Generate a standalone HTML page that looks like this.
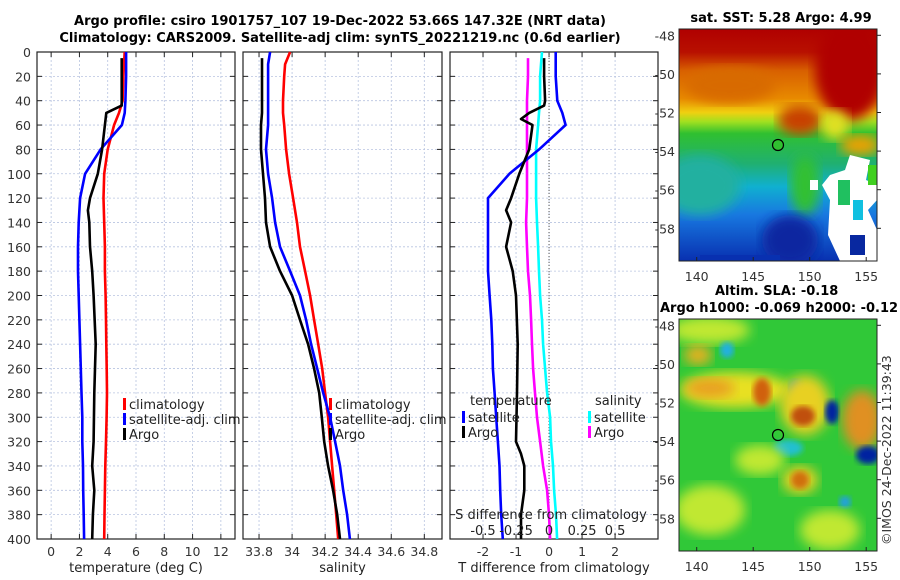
<!DOCTYPE html>
<html><head><meta charset="utf-8"><style>
html,body{margin:0;padding:0;background:#fff;}
svg{display:block;font-family:"DejaVu Sans","Liberation Sans",sans-serif;}
.tk{font-size:12.5px;fill:#333;}
.ttl{font-size:13px;font-weight:bold;fill:#000;}
.lg{font-size:13px;fill:#222;}
</style></head><body>
<svg id="chart" width="900" height="580" viewBox="0 0 900 580">
<defs>
<filter id="blur6"><feGaussianBlur stdDeviation="6"/></filter>
<filter id="blur3"><feGaussianBlur stdDeviation="3"/></filter>
<clipPath id="clipTop"><rect x="679" y="29" width="198" height="232"/></clipPath>
<clipPath id="clipBot"><rect x="679" y="319" width="198" height="232"/></clipPath>
<linearGradient id="sstGrad" x1="0" y1="0" x2="0" y2="1">
<stop offset="0" stop-color="#b00000"/><stop offset="0.1" stop-color="#b81000"/>
<stop offset="0.18" stop-color="#d86000"/><stop offset="0.3" stop-color="#e88a00"/>
<stop offset="0.36" stop-color="#f0d010"/><stop offset="0.4" stop-color="#a0e020"/>
<stop offset="0.45" stop-color="#30c030"/><stop offset="0.58" stop-color="#20b070"/>
<stop offset="0.68" stop-color="#10b0d0"/>
<stop offset="0.8" stop-color="#1878e0"/><stop offset="1" stop-color="#0830b0"/>
</linearGradient>
</defs>
<g id="titles">
<text class="ttl" x="340" y="25" text-anchor="middle">Argo profile: csiro 1901757_107 19-Dec-2022 53.66S 147.32E (NRT data)</text>
<text class="ttl" x="340" y="42" text-anchor="middle">Climatology: CARS2009. Satellite-adj clim: synTS_20221219.nc (0.6d earlier)</text>
</g>
<g id="panels"></g>
<g id="maps">
<g clip-path="url(#clipTop)">
<rect x="679" y="29" width="198" height="232" fill="url(#sstGrad)"/>
<ellipse cx="850" cy="70" rx="35" ry="50" fill="#b00000" filter="url(#blur6)"/>
<ellipse cx="730" cy="85" rx="45" ry="18" fill="#d86a00" filter="url(#blur6)"/>
<ellipse cx="800" cy="120" rx="22" ry="15" fill="#c84000" filter="url(#blur6)"/>
<ellipse cx="835" cy="125" rx="14" ry="15" fill="#e0e020" filter="url(#blur6)"/>
<ellipse cx="860" cy="145" rx="20" ry="10" fill="#f0a000" filter="url(#blur6)"/>
<ellipse cx="700" cy="185" rx="40" ry="30" fill="#20b0a0" filter="url(#blur6)"/>
<ellipse cx="805" cy="185" rx="15" ry="30" fill="#30c030" filter="url(#blur6)"/>
<ellipse cx="790" cy="240" rx="28" ry="25" fill="#0828a0" filter="url(#blur6)"/>
<polygon points="830,175 845,170 850,155 870,160 866,180 877,185 877,200 868,210 877,230 877,261 840,261 828,235 830,200 822,185" fill="#ffffff"/>
<rect x="838" y="180" width="12" height="25" fill="#20c060"/>
<rect x="853" y="200" width="10" height="20" fill="#10c0e0"/>
<rect x="868" y="165" width="9" height="20" fill="#40d020"/>
<rect x="850" y="235" width="15" height="20" fill="#0828a0"/>
<rect x="810" y="180" width="8" height="10" fill="#ffffff"/>
<rect x="700" y="255" width="80" height="6" fill="#0830b0"/>
</g>
<rect x="679" y="29" width="198" height="232" fill="none" stroke="#222" stroke-width="1"/>
<circle cx="778" cy="145" r="5.5" fill="#30c030" stroke="#000" stroke-width="1.2"/>
<text class="ttl" x="781" y="22" text-anchor="middle">sat. SST: 5.28 Argo: 4.99</text>
<g clip-path="url(#clipBot)">
<rect x="679" y="319" width="198" height="232" fill="#30c838"/>
<ellipse cx="710" cy="330" rx="40" ry="14" fill="#c0e830" filter="url(#blur6)"/>
<ellipse cx="735" cy="390" rx="55" ry="18" fill="#e8e020" filter="url(#blur6)"/>
<ellipse cx="710" cy="388" rx="25" ry="10" fill="#e8a020" filter="url(#blur6)"/>
<ellipse cx="698" cy="355" rx="14" ry="10" fill="#e8b020" filter="url(#blur6)"/>
<ellipse cx="762" cy="392" rx="9" ry="14" fill="#d06010" filter="url(#blur3)"/>
<ellipse cx="727" cy="350" rx="7" ry="8" fill="#20b0e0" filter="url(#blur3)"/>
<ellipse cx="796" cy="388" rx="7" ry="8" fill="#1090e0" filter="url(#blur3)"/>
<ellipse cx="805" cy="405" rx="25" ry="30" fill="#e8d020" filter="url(#blur6)"/>
<ellipse cx="803" cy="416" rx="12" ry="10" fill="#c05010" filter="url(#blur3)"/>
<ellipse cx="832" cy="412" rx="7" ry="12" fill="#0020a0" filter="url(#blur3)"/>
<ellipse cx="862" cy="420" rx="20" ry="30" fill="#e09020" filter="url(#blur6)"/>
<ellipse cx="868" cy="455" rx="12" ry="9" fill="#0020a0" filter="url(#blur3)"/>
<ellipse cx="788" cy="448" rx="15" ry="8" fill="#20c0d0" filter="url(#blur3)"/>
<ellipse cx="800" cy="480" rx="18" ry="14" fill="#e8d020" filter="url(#blur6)"/>
<ellipse cx="800" cy="480" rx="9" ry="9" fill="#d07010" filter="url(#blur3)"/>
<ellipse cx="845" cy="502" rx="6" ry="6" fill="#20a0e0" filter="url(#blur3)"/>
<ellipse cx="710" cy="510" rx="35" ry="25" fill="#c0e830" filter="url(#blur6)"/>
<ellipse cx="760" cy="460" rx="25" ry="15" fill="#c0e830" filter="url(#blur6)"/>
<ellipse cx="830" cy="530" rx="30" ry="20" fill="#c0e830" filter="url(#blur6)"/>
</g>
<rect x="679" y="319" width="198" height="232" fill="none" stroke="#222" stroke-width="1"/>
<circle cx="778" cy="435" r="5.5" fill="none" stroke="#000" stroke-width="1.2"/>
<text class="ttl" x="715" y="295">Altim. SLA: -0.18</text>
<text class="ttl" x="660" y="312">Argo h1000: -0.069 h2000: -0.12</text>
<text class="tk" x="0" y="0" transform="translate(891,545) rotate(-90)">©IMOS 24-Dec-2022 11:39:43</text>
</g>
</svg>
<script>
// ---- data ----
const depths = [0,10,20,40,50,60,80,100,120,140,160,180,200,220,240,260,280,300,320,340,360,380,400];
const argoDepths = [5,20,40,44,50,55,60,80,100,120,130,140,160,180,200,240,280,320,330,340,360,380,400];
const argoSalDepths = [5,10,20,40,50,60,80,100,120,140,160,180,200,220,240,260,280,300,320,340,360,380,400];
const tempClim = [5.2,5.15,5.1,5.05,4.8,4.45,4.0,3.75,3.7,3.75,3.8,3.8,3.85,3.88,3.9,3.93,3.95,3.92,3.88,3.83,3.8,3.77,3.75];
const tempSat = [5.3,5.3,5.3,5.25,5.2,5.0,3.5,2.4,2.05,1.95,1.9,1.9,1.95,2.0,2.05,2.1,2.15,2.2,2.2,2.25,2.27,2.3,2.33];
const tempArgo = [4.99,4.99,4.99,4.99,3.9,3.85,3.8,3.6,3.3,2.75,2.6,2.7,2.75,2.9,3.0,3.15,3.05,3.0,2.95,2.9,3.05,2.95,2.9];
const salClim = [33.988,33.958,33.952,33.945,33.945,33.952,33.964,33.982,34.006,34.03,34.048,34.079,34.109,34.133,34.158,34.182,34.2,34.218,34.23,34.242,34.255,34.267,34.279];
const salSat = [33.867,33.855,33.855,33.855,33.855,33.855,33.842,33.855,33.879,33.897,33.927,33.988,34.048,34.085,34.115,34.152,34.188,34.23,34.26,34.29,34.309,34.333,34.35];
const salArgo = [33.818,33.818,33.818,33.818,33.818,33.812,33.812,33.824,33.836,33.842,33.867,33.927,34.0,34.048,34.097,34.133,34.164,34.18,34.194,34.218,34.248,34.273,34.29];
const tDiffSat = [0.2,0.2,0.2,0.25,0.4,0.5,-0.3,-1.2,-1.85,-1.85,-1.85,-1.85,-1.8,-1.75,-1.72,-1.7,-1.65,-1.6,-1.55,-1.5,-1.48,-1.45,-1.4];
const tDiffArgo = [-0.15,-0.15,-0.12,-0.15,-0.6,-0.85,-0.5,-0.6,-0.9,-1.15,-1.3,-1.15,-1.3,-1.1,-1.0,-0.95,-0.97,-1.0,-0.85,-0.75,-0.75,-0.85,-0.85];
const sDiffSat = [-0.053,-0.061,-0.068,-0.068,-0.076,-0.083,-0.098,-0.098,-0.098,-0.091,-0.083,-0.076,-0.068,-0.053,-0.045,-0.030,-0.015,0.008,0.015,0.030,0.038,0.053,0.061];
const sDiffArgo = [-0.159,-0.159,-0.159,-0.167,-0.167,-0.167,-0.167,-0.167,-0.167,-0.174,-0.167,-0.159,-0.144,-0.136,-0.129,-0.121,-0.106,-0.091,-0.068,-0.045,-0.015,0,0.008];
const depthTicks = [0,20,40,60,80,100,120,140,160,180,200,220,240,260,280,300,320,340,360,380,400];
const tempTicks = [0,2,4,6,8,10,12];
const salTicks = [33.8,34,34.2,34.4,34.6,34.8];
const tdTicks = [-2,-1,0,1,2];
const sdTicks = [-0.5,-0.25,0,0.25,0.5];
const mapLonTicks = [140,145,150,155];
const mapLatTicks = [-48,-50,-52,-54,-56,-58];

const NS='http://www.w3.org/2000/svg';
const root=document.getElementById('panels');
function mk(tag,attrs,parent){const e=document.createElementNS(NS,tag);for(const k in attrs)e.setAttribute(k,attrs[k]);(parent||root).appendChild(e);return e;}
const Y0=52,Y1=539;
const yD=d=>Y0+d*(Y1-Y0)/400;

function panel(name,x0,x1,xmin,xmax,ticks,label,fmt){
  const g=mk('g',{});
  
  
  const xs=v=>x0+(v-xmin)*(x1-x0)/(xmax-xmin);
  depthTicks.forEach(d=>{mk('line',{x1:x0,x2:x1,y1:yD(d),y2:yD(d),stroke:'#b8c4e0','stroke-width':0.8,'stroke-dasharray':'2,2'},g);
    mk('line',{x1:x0,x2:x0+5,y1:yD(d),y2:yD(d),stroke:'#222'},g);mk('line',{x1:x1-5,x2:x1,y1:yD(d),y2:yD(d),stroke:'#222'},g);});
  ticks.forEach(t=>{const x=xs(t);mk('line',{x1:x,x2:x,y1:Y0,y2:Y1,stroke:'#b8c4e0','stroke-width':0.8,'stroke-dasharray':'2,2'},g);
    mk('line',{x1:x,x2:x,y1:Y1,y2:Y1-5,stroke:'#222'},g);mk('line',{x1:x,x2:x,y1:Y0,y2:Y0+5,stroke:'#222'},g);
    const tx=mk('text',{x:x,y:556,'text-anchor':'middle',class:'tk'},g);tx.textContent=fmt(t);
    
    });
  mk('rect',{x:x0,y:Y0,width:x1-x0,height:Y1-Y0,fill:'none',stroke:'#222','stroke-width':1.2},g);
  const lb=mk('text',{x:(x0+x1)/2,y:572,'text-anchor':'middle',class:'lg'},g);lb.textContent=label;
  
  
  return {g,xs};
}
function line(p,name,dep,vals,color,xs){
  const pts=vals.map((v,i)=>xs(v).toFixed(1)+','+yD(dep[i]).toFixed(1)).join(' ');
  const l=mk('polyline',{points:pts,fill:'none',stroke:color,'stroke-width':2.6,'stroke-linejoin':'round'},p.g);
  
  
}
function legend(g,x,y,items){
  items.forEach((it,i)=>{mk('rect',{x:x,y:y+i*15-11,width:3,height:12,fill:it[1]},g);
    const t=mk('text',{x:x+6,y:y+i*15,class:'lg'},g);t.textContent=it[0];
    
    });
}
depthTicks.forEach(d=>{const t=mk('text',{x:31,y:yD(d)+5,'text-anchor':'end',class:'tk'});t.textContent=d;
  
  });

const p1=panel('temperature-panel',37,235,-1,13,tempTicks,'temperature (deg C)',v=>v);
line(p1,'temp-climatology-line',depths,tempClim,'#ff0000',p1.xs);
line(p1,'temp-satellite-line',depths,tempSat,'#0000ff',p1.xs);
line(p1,'temp-argo-line',argoDepths,tempArgo,'#000000',p1.xs);
legend(p1.g,123,409,[['climatology','#ff0000'],['satellite-adj. clim','#0000ff'],['Argo','#000000']]);

const p2=panel('salinity-panel',243,442,33.703,34.907,salTicks,'salinity',v=>v);
line(p2,'sal-climatology-line',depths,salClim,'#ff0000',p2.xs);
line(p2,'sal-satellite-line',depths,salSat,'#0000ff',p2.xs);
line(p2,'sal-argo-line',argoSalDepths,salArgo,'#000000',p2.xs);
legend(p2.g,329,409,[['climatology','#ff0000'],['satellite-adj. clim','#0000ff'],['Argo','#000000']]);

const p3=panel('difference-panel',450,658,-3,3.3,tdTicks,'T difference from climatology',v=>v);
mk('line',{x1:p3.xs(0),x2:p3.xs(0),y1:Y0,y2:Y1,stroke:'#555','stroke-width':1,'stroke-dasharray':'1,2'},p3.g);
const sx=v=>p3.xs(v*4);
line(p3,'sdiff-argo-line',argoSalDepths,sDiffArgo,'#ff00ff',sx);
line(p3,'sdiff-satellite-line',depths,sDiffSat,'#00ffff',sx);
line(p3,'tdiff-satellite-line',depths,tDiffSat,'#0000ff',p3.xs);
line(p3,'tdiff-argo-line',argoDepths,tDiffArgo,'#000000',p3.xs);
{const t=mk('text',{x:470,y:405,class:'lg'},p3.g);t.textContent='temperature';
 
 
 const s=mk('text',{x:595,y:405,class:'lg'},p3.g);s.textContent='salinity';
 
 }
legend(p3.g,462,422,[['satellite','#0000ff'],['Argo','#000000']]);
legend(p3.g,588,422,[['satellite','#00ffff'],['Argo','#ff00ff']]);
{const t=mk('text',{x:551,y:519,'text-anchor':'middle',class:'lg'},p3.g);t.textContent='S difference from climatology';
 
 }
sdTicks.forEach(v=>{const t=mk('text',{x:sx(v),y:535,'text-anchor':'middle',class:'lg'},p3.g);t.textContent=v;
 
 });

const mapsG=document.getElementById('maps');
const lonX=l=>696.7+(l-140)*11.3, latY=(la,top)=>top+6.3+(-48-la)*19.3;
[29,319].forEach(top=>{
  mapLonTicks.forEach(l=>{const t=mk('text',{x:lonX(l),y:top+252,'text-anchor':'middle',class:'tk'},mapsG);t.textContent=l;
    
    
    mk('line',{x1:lonX(l),x2:lonX(l),y1:top+232,y2:top+228,stroke:'#222'},mapsG);});
  mapLatTicks.forEach(la=>{const y=latY(la,top);const t=mk('text',{x:675,y:y+5,'text-anchor':'end',class:'tk'},mapsG);t.textContent=la;
    
    
    mk('line',{x1:877,x2:881,y1:y,y2:y,stroke:'#222'},mapsG);});
});
</script>
</body></html>
